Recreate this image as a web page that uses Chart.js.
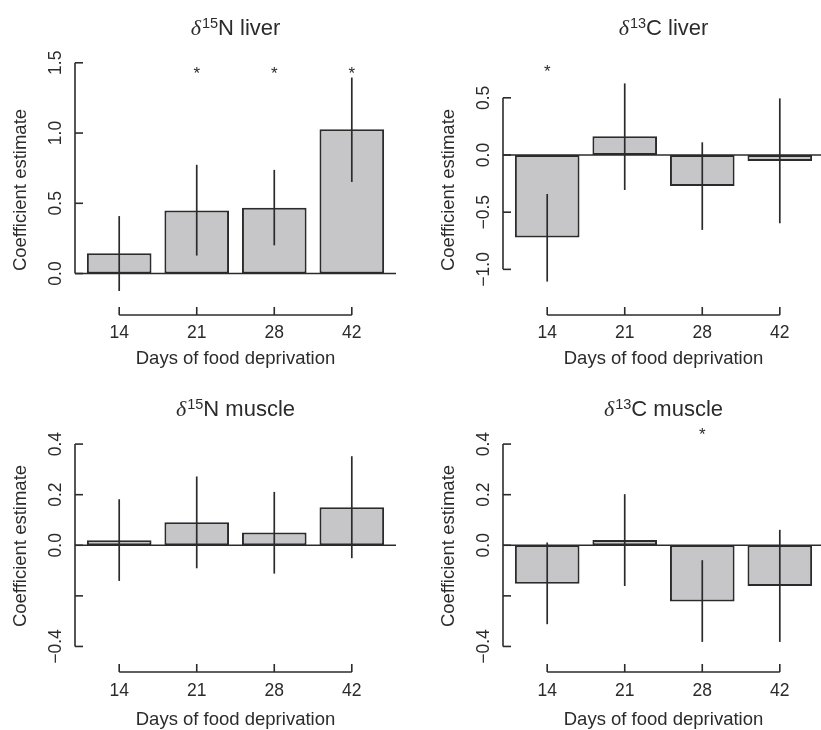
<!DOCTYPE html>
<html>
<head>
<meta charset="utf-8">
<title>Coefficient estimates</title>
<script src="https://cdn.jsdelivr.net/npm/chart.js@4.4.1/dist/chart.umd.min.js"></script>
<style>
  body { margin: 0; background: #fff; width: 821px; height: 730px; overflow: hidden; position: relative; }
  canvas { position: absolute; }
</style>
</head>
<body>
<canvas id="nLiver" width="410" height="380" style="left:0;top:0"></canvas>
<canvas id="cLiver" width="410" height="380" style="left:428px;top:0"></canvas>
<canvas id="nMuscle" width="410" height="380" style="left:0;top:365px"></canvas>
<canvas id="cMuscle" width="410" height="380" style="left:428px;top:365px"></canvas>
<script>
var days = ['14', '21', '28', '42'];

var nLiverEst  = [0.145, 0.449, 0.468, 1.027];
var nLiverLow  = [-0.124, 0.128, 0.201, 0.652];
var nLiverHigh = [0.409, 0.774, 0.738, 1.395];
var nLiverSig  = [false, true, true, true];

var cLiverEst  = [-0.722, 0.163, -0.271, -0.052];
var cLiverLow  = [-1.107, -0.306, -0.655, -0.597];
var cLiverHigh = [-0.341, 0.626, 0.111, 0.495];
var cLiverSig  = [true, false, false, false];

var nMuscleEst  = [0.02, 0.091, 0.05, 0.15];
var nMuscleLow  = [-0.141, -0.091, -0.112, -0.051];
var nMuscleHigh = [0.182, 0.272, 0.211, 0.352];
var nMuscleSig  = [false, false, false, false];

var cMuscleEst  = [-0.152, 0.021, -0.222, -0.161];
var cMuscleLow  = [-0.312, -0.161, -0.382, -0.382];
var cMuscleHigh = [0.011, 0.202, -0.059, 0.061];
var cMuscleSig  = [false, false, true, false];

var nLiverTicks = [0, 0.5, 1, 1.5];
var nLiverTickLabels = ['0.0', '0.5', '1.0', '1.5'];
var cLiverTicks = [-1, -0.5, 0, 0.5];
var cLiverTickLabels = ['\u22121.0', '\u22120.5', '0.0', '0.5'];
var muscleTicks = [-0.4, -0.2, 0, 0.2, 0.4];
var muscleTickLabels = ['\u22120.4', '', '0.0', '0.2', '0.4'];

// barplot() puts bars of width 1 with space 0.2
var barX = days.map(function (d, i) { return 0.7 + 1.2 * i; });

var ink = '#2b2b2b';
var sans = '"Liberation Sans", Arial, sans-serif';

var topRow = {
  pad: { left: 75, right: 14, top: 50, bottom: 65 },
  titleY: 27, yTitleY: 190, tickGap: 18.5, xTitleGap: 44
};
var bottomRow = {
  pad: { left: 75, right: 14, top: 50, bottom: 73 },
  titleY: 43.5, yTitleY: 181, tickGap: 19, xTitleGap: 48
};

function line(c, x1, y1, x2, y2) {
  c.beginPath();
  c.moveTo(x1, y1);
  c.lineTo(x2, y2);
  c.stroke();
}

function drawTitle(c, cx, cy, iso, rest) {
  var f1 = 'italic 22px "Liberation Serif", serif';
  var f2 = '14.5px ' + sans;
  var f3 = '22px ' + sans;
  c.font = f1; var w1 = c.measureText('\u03b4').width + 1;
  c.font = f2; var w2 = c.measureText(iso).width;
  c.font = f3; var w3 = c.measureText(rest).width;
  var x = cx - (w1 + w2 + w3) / 2;
  var base = cy + 7.5;
  c.textAlign = 'left';
  c.textBaseline = 'alphabetic';
  c.font = f1; c.fillText('\u03b4', x, base); x += w1;
  c.font = f2; c.fillText(iso, x, base - 7); x += w2;
  c.font = f3; c.fillText(rest, x, base);
}

function rStyle(o) {
  return {
    id: 'rStyle',
    afterDatasetsDraw: function (chart) {
      var c = chart.ctx, a = chart.chartArea;
      var xs = chart.scales.x, ys = chart.scales.y, row = o.row;
      var zero = ys.getPixelForValue(0);
      c.save();
      c.strokeStyle = ink;
      c.fillStyle = ink;

      c.lineWidth = 1.4;
      line(c, a.left, zero, a.right, zero);

      c.lineWidth = 1.7;
      barX.forEach(function (v, i) {
        var px = xs.getPixelForValue(v);
        line(c, px, ys.getPixelForValue(o.low[i]), px, ys.getPixelForValue(o.high[i]));
        if (o.sig[i]) {
          c.font = '17px ' + sans;
          c.textAlign = 'center';
          c.textBaseline = 'alphabetic';
          c.fillText('*', px, ys.getPixelForValue(o.starAt) + 8);
        }
      });

      // y axis, ticks pointing in
      c.lineWidth = 1.6;
      var yTop = ys.getPixelForValue(o.ticks[o.ticks.length - 1]);
      var yBot = ys.getPixelForValue(o.ticks[0]);
      line(c, a.left, yTop, a.left, yBot);
      o.ticks.forEach(function (t, i) {
        var py = ys.getPixelForValue(t);
        line(c, a.left, py, a.left + 8, py);
        c.save();
        c.translate(a.left - 19, py);
        c.rotate(-Math.PI / 2);
        c.font = '17.5px ' + sans;
        c.textAlign = 'center';
        c.textBaseline = 'middle';
        c.fillText(o.tickLabels[i], 0, 0);
        c.restore();
      });

      // x axis at the bottom of the plot region
      var x0 = xs.getPixelForValue(barX[0]);
      var x1 = xs.getPixelForValue(barX[barX.length - 1]);
      line(c, x0, a.bottom, x1, a.bottom);
      c.font = '17.5px ' + sans;
      c.textAlign = 'center';
      c.textBaseline = 'middle';
      barX.forEach(function (v, i) {
        var px = xs.getPixelForValue(v);
        line(c, px, a.bottom, px, a.bottom - 8);
        c.fillText(days[i], px, a.bottom + row.tickGap);
      });

      c.font = '18.5px ' + sans;
      c.fillText('Days of food deprivation', (a.left + a.right) / 2, a.bottom + row.xTitleGap);

      c.save();
      c.translate(21, row.yTitleY);
      c.rotate(-Math.PI / 2);
      c.fillText('Coefficient estimate', 0, 0);
      c.restore();

      drawTitle(c, (a.left + a.right) / 2, row.titleY, o.iso, o.rest);
      c.restore();
    }
  };
}

function makePanel(id, o) {
  var ctx = document.getElementById(id).getContext('2d');
  return new Chart(ctx, {
    type: 'bar',
    data: {
      datasets: [{
        data: o.est.map(function (v, i) { return { x: barX[i], y: v }; }),
        backgroundColor: '#c6c6c8',
        borderColor: ink,
        borderWidth: 2,
        borderSkipped: false,
        categoryPercentage: 1,
        barPercentage: 1 / 1.2
      }]
    },
    options: {
      responsive: false,
      animation: false,
      devicePixelRatio: 1,
      events: [],
      layout: { padding: o.row.pad },
      plugins: {
        legend: { display: false },
        tooltip: { enabled: false },
        title: { display: false }
      },
      scales: {
        x: {
          type: 'linear', display: false, offset: false,
          min: 0.016, max: 4.984,
          afterBuildTicks: function (s) {
            s.ticks = barX.map(function (v) { return { value: v }; });
          }
        },
        y: { type: 'linear', display: false, min: o.yMin, max: o.yMax }
      }
    },
    plugins: [rStyle(o)]
  });
}

makePanel('nLiver', {
  est: nLiverEst, low: nLiverLow, high: nLiverHigh, sig: nLiverSig,
  ticks: nLiverTicks, tickLabels: nLiverTickLabels,
  yMin: -0.295, yMax: 1.591, starAt: 1.443,
  iso: '15', rest: 'N liver', row: topRow
});
makePanel('cLiver', {
  est: cLiverEst, low: cLiverLow, high: cLiverHigh, sig: cLiverSig,
  ticks: cLiverTicks, tickLabels: cLiverTickLabels,
  yMin: -1.399, yMax: 0.918, starAt: 0.749,
  iso: '13', rest: 'C liver', row: topRow
});
makePanel('nMuscle', {
  est: nMuscleEst, low: nMuscleLow, high: nMuscleHigh, sig: nMuscleSig,
  ticks: muscleTicks, tickLabels: muscleTickLabels,
  yMin: -0.501, yMax: 0.515, starAt: 0.449,
  iso: '15', rest: 'N muscle', row: bottomRow
});
makePanel('cMuscle', {
  est: cMuscleEst, low: cMuscleLow, high: cMuscleHigh, sig: cMuscleSig,
  ticks: muscleTicks, tickLabels: muscleTickLabels,
  yMin: -0.501, yMax: 0.515, starAt: 0.449,
  iso: '13', rest: 'C muscle', row: bottomRow
});
</script>
</body>
</html>
